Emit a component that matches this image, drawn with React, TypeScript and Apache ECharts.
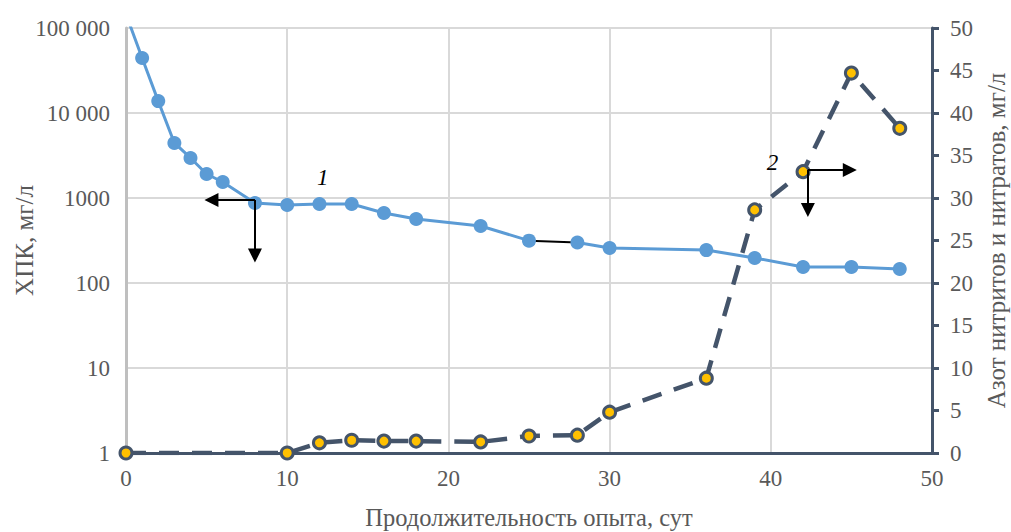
import React, { useEffect, useRef } from "react";
import * as echarts from "echarts";

const xTicks = [0, 10, 20, 30, 40, 50];
const codDays = [0, 1, 2, 3, 4, 5, 6, 8, 10, 12, 14, 16, 18, 22, 25, 28, 30, 36, 39, 42, 45, 48];
const codValues = [145000, 44400, 13800, 4440, 2960, 1915, 1543, 874, 827, 850, 850, 665, 566, 468, 315, 300, 258, 244, 197, 154, 154, 146];
const nDays = [0, 10, 12, 14, 16, 18, 22, 25, 28, 30, 36, 39, 42, 45, 48];
const nValues = [0, 0, 1.2, 1.5, 1.4, 1.4, 1.3, 2.0, 2.1, 4.8, 8.8, 28.6, 33.1, 44.7, 38.2];
const blackSegDays = [25, 28];

const FONT = "'Liberation Serif', 'Times New Roman', serif";
const TXT = "#595959";
const DARK = "#44546A";
const BLUE = "#5B9BD5";
const YEL = "#FFC000";

export default function App() {
  const ref = useRef<HTMLDivElement>(null);
  useEffect(() => {
    if (!ref.current) return;
    const chart = echarts.init(ref.current, null, { renderer: "svg" });

    const blueData: any[] = [];
    codDays.forEach((d, i) => {
      blueData.push([d, codValues[i]]);
      if (d === blackSegDays[0]) blueData.push([(blackSegDays[0] + blackSegDays[1]) / 2, "-"]);
    });
    const blackData = blackSegDays.map((d) => [d, codValues[codDays.indexOf(d)]]);
    const nData = nDays.map((d, i) => [d, nValues[i]]);

    const arrowLine = {
      silent: true,
      symbol: ["none", "triangle"],
      symbolSize: 14,
      label: { show: false },
      lineStyle: { color: "#000", width: 2, type: "solid" },
      itemStyle: { color: "#000" },
      emphasis: { disabled: true },
    };

    chart.setOption({
      animation: false,
      grid: { left: 126, right: 79, top: 28, bottom: 79, outerBoundsMode: "none", containLabel: false },
      xAxis: {
        type: "value",
        min: 0,
        max: 50,
        interval: 10,
        name: "Продолжительность опыта, сут",
        nameLocation: "middle",
        nameGap: 52,
        nameMoveOverlap: false,
        nameTextStyle: { fontFamily: FONT, fontSize: 24.5, color: TXT },
        axisLine: { onZero: false, lineStyle: { color: DARK, width: 3 } },
        axisTick: { show: false },
        axisLabel: { fontFamily: FONT, fontSize: 23, color: TXT, margin: 14 },
        splitLine: { show: true, lineStyle: { color: "#D9D9D9", width: 2 } },
      },
      yAxis: [
        {
          type: "log",
          logBase: 10,
          min: 1,
          max: 100000,
          name: "ХПК, мг/л",
          nameLocation: "middle",
          nameGap: 89,
          nameMoveOverlap: false,
          nameTextStyle: { fontFamily: FONT, fontSize: 25, color: TXT },
          axisLine: { show: true, lineStyle: { color: "#BFBFBF", width: 3 } },
          axisTick: { show: false },
          axisLabel: {
            fontFamily: FONT,
            fontSize: 23,
            color: TXT,
            margin: 16,
            formatter: (v: number) => (v >= 10000 ? String(v).replace(/(\d)(?=(\d{3})+$)/g, "$1 ") : String(v)),
          },
          splitLine: { show: true, lineStyle: { color: "#D9D9D9", width: 2 } },
        },
        {
          type: "value",
          min: 0,
          max: 50,
          interval: 5,
          position: "right",
          name: "Азот нитритов и нитратов, мг/л",
          nameLocation: "middle",
          nameGap: 52,
          nameMoveOverlap: false,
          nameTextStyle: { fontFamily: FONT, fontSize: 25, color: TXT },
          axisLine: { show: true, lineStyle: { color: DARK, width: 3 } },
          axisTick: { show: true, inside: false, length: 7, lineStyle: { color: DARK, width: 3 } },
          axisLabel: { fontFamily: FONT, fontSize: 23, color: TXT, margin: 18 },
          splitLine: { show: false },
        },
      ],
      series: [
        {
          type: "line",
          data: blackData,
          yAxisIndex: 0,
          symbol: "none",
          lineStyle: { color: "#000", width: 2 },
          z: 1,
          silent: true,
        },
        {
          type: "line",
          data: blueData,
          yAxisIndex: 0,
          connectNulls: false,
          clip: true,
          symbol: "circle",
          symbolSize: 14,
          itemStyle: { color: BLUE },
          lineStyle: { color: BLUE, width: 3 },
          z: 2,
          markLine: {
            ...arrowLine,
            data: [
              [{ coord: [8, 950] }, { coord: [5.3, 950] }],
              [{ coord: [8, 950] }, { coord: [8, 210] }],
            ],
          },
        },
        {
          type: "line",
          data: nData,
          yAxisIndex: 1,
          symbol: "circle",
          symbolSize: 12,
          itemStyle: { color: YEL, borderColor: DARK, borderWidth: 3 },
          lineStyle: { color: DARK, width: 4.5, type: [20, 13] },
          z: 3,
          markLine: {
            ...arrowLine,
            data: [
              [{ coord: [42.3, 33.3] }, { coord: [44.9, 33.3] }],
              [{ coord: [42.3, 33.3] }, { coord: [42.3, 28.6] }],
            ],
          },
        },
      ],
    });

    const p1 = chart.convertToPixel({ xAxisIndex: 0, yAxisIndex: 0 }, [12.2, 1720]) as number[];
    const p2 = chart.convertToPixel({ xAxisIndex: 0, yAxisIndex: 1 }, [40.1, 34.2]) as number[];
    chart.setOption({
      graphic: [
        { type: "text", x: p1[0], y: p1[1], style: { text: "1", font: `italic 23px ${FONT}`, fill: "#000", align: "center", verticalAlign: "middle" }, z: 10 },
        { type: "text", x: p2[0], y: p2[1], style: { text: "2", font: `italic 23px ${FONT}`, fill: "#000", align: "center", verticalAlign: "middle" }, z: 10 },
      ],
    });

    return () => chart.dispose();
  }, []);
  return <div ref={ref} style={{ position: "fixed", left: 0, top: 0, width: 1011, height: 532, background: "#fff" }} />;
}
